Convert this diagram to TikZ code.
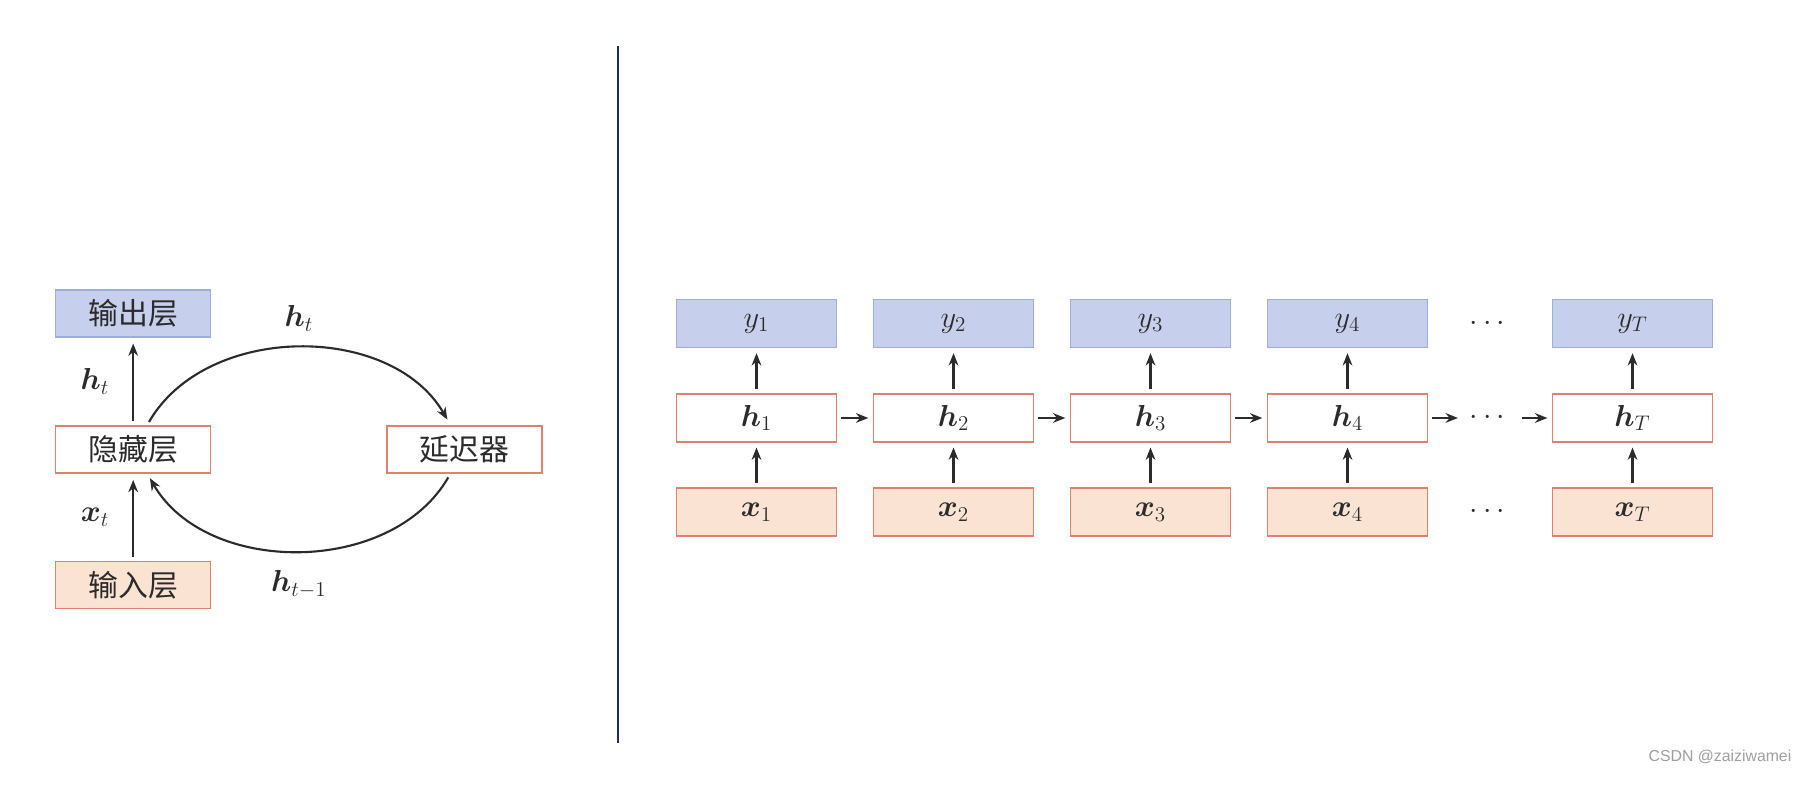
\documentclass[tikz,border=0pt]{standalone}
\usepackage{fontspec}
\usepackage{amsmath}
\usepackage{bm}
\newfontfamily\cjk{Noto Sans CJK SC}
\newfontfamily\wmfont{Liberation Sans}
\usetikzlibrary{arrows.meta, positioning}

\definecolor{outfill}{HTML}{C6CFEB}
\definecolor{outdraw}{HTML}{9DAFD9}
\definecolor{infill}{HTML}{FBE3D3}
\definecolor{indraw}{HTML}{E0806E}
\definecolor{sepline}{HTML}{1F2D5C}
\definecolor{arrowcol}{HTML}{2B2B2B}

\tikzset{
  every layer/.style={rectangle, line width=0.9pt, inner sep=0pt,
    minimum width=3.1cm, minimum height=0.94cm},
  output layer/.style={every layer, draw=outdraw, fill=outfill},
  hidden layer/.style={every layer, draw=indraw, fill=white},
  input layer/.style={every layer, draw=indraw, fill=infill},
  wide/.style={minimum width=3.2cm, minimum height=0.96cm},
  more/.style={inner sep=0pt, minimum width=1.1cm},
  tag/.style={inner sep=0pt}
}

\begin{document}
\begin{tikzpicture}[arrowcol, font=\fontsize{17}{20}\selectfont, line width=1.2pt,
  >={Stealth[length=7pt, width=5.5pt]}]
  \useasboundingbox (0,0) rectangle (36.14,15.8);

  % left: recurrent unit with delay
  \node [output layer] (output) at (2.664, 9.534) {\cjk 输出层};
  \node [hidden layer] (hidden) at (2.664, 6.814) {\cjk 隐藏层};
  \node [input layer] (input) at (2.664, 4.1) {\cjk 输入层};
  \node [hidden layer] (delay) at (9.29, 6.814) {\cjk 延迟器};

  \draw [->, shorten <=2.4pt, shorten >=3.4pt] (hidden) -- (output)
    node [tag, midway, left=13pt] (h-up) {$\bm{h}_t$};
  \draw [->, shorten <=2pt, shorten >=3.6pt] (input) -- (hidden)
    node [tag, midway, left=13pt] (x-in) {$\bm{x}_t$};
  \draw [->, shorten <=2pt, shorten >=3.5pt] (hidden.60) to [out=60, in=120]
    node [tag, midway, above=9pt] (h-fwd) {$\bm{h}_t$} (delay.120);
  \draw [->, shorten <=2.5pt, shorten >=3pt] (delay.240) to [out=-120, in=-60]
    node [tag, midway, below=11pt] (h-back) {$\bm{h}_{t-1}$} (hidden.300);

  % separator
  \coordinate (sep-top) at (12.36, 14.88);
  \coordinate (sep-bot) at (12.36, 0.94);
  \draw [sepline, line width=1.1pt] (sep-top) -- (sep-bot);

  % right: unrolled in time
  \foreach \m/\x in {1/15.13, 2/19.07, 3/23.01, 4/26.95, T/32.65}
    \node [output layer, wide] (y-\m) at (\x, 9.33) {$y_\m$};
  \foreach \m/\x in {1/15.13, 2/19.07, 3/23.01, 4/26.95, T/32.65}
    \node [hidden layer, wide] (h-\m) at (\x, 7.44) {$\bm{h}_\m$};
  \foreach \m/\x in {1/15.13, 2/19.07, 3/23.01, 4/26.95, T/32.65}
    \node [input layer, wide] (x-\m) at (\x, 5.56) {$\bm{x}_\m$};
  \foreach \r/\y in {y/9.33, h/7.44, x/5.56}
    \node [more] (dots-\r) at (29.8, \y) {$\cdots$};

  \foreach \m in {1, 2, 3, 4, T}
    \draw [->, shorten <=2.3pt, shorten >=2.8pt] (h-\m) -- (y-\m);
  \foreach \m in {1, 2, 3, 4, T}
    \draw [->, shorten <=2.3pt, shorten >=2.7pt] (x-\m) -- (h-\m);
  \foreach \f/\t in {1/2, 2/3, 3/4}
    \draw [->, shorten <=1.9pt, shorten >=2.5pt] (h-\f) -- (h-\t);
  \draw [->, shorten <=1.9pt, shorten >=2pt] (h-4) -- (dots-h);
  \draw [->, shorten <=2pt, shorten >=2.5pt] (dots-h) -- (h-T);

  \node [text=black!38, font=\wmfont\fontsize{9}{11}\selectfont] (mark)
    at (34.4, 0.66) {CSDN @zaiziwamei};
\end{tikzpicture}
\end{document}
